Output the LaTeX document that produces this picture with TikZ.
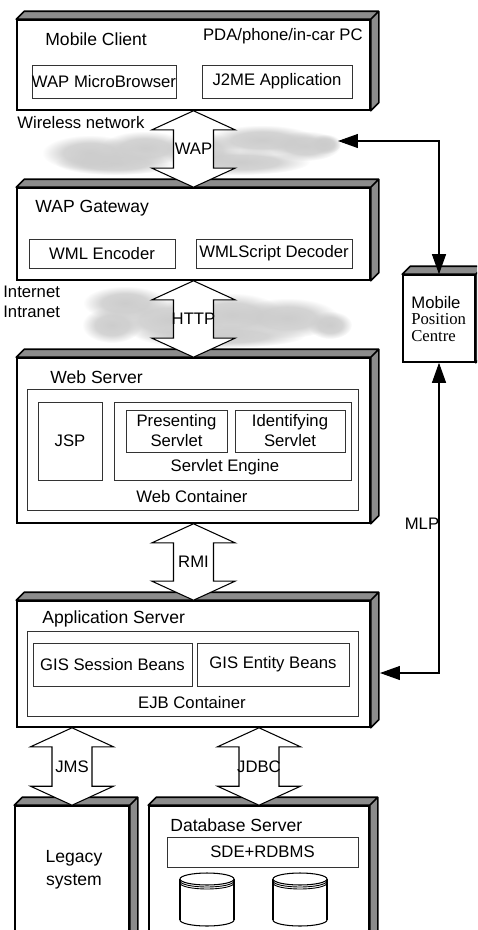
\documentclass[tikz,border=0pt]{standalone}
\usepackage{fontspec}
\setmainfont{Liberation Sans}
\newfontfamily\serifpart{Liberation Serif}
\usetikzlibrary{arrows.meta,calc,fit,fadings}

% soft edge for the cloud puffs
\pgfdeclareradialshading{puffshade}{\pgfpointorigin}{color(0bp)=(white); color(14bp)=(white!85!black);
  color(25bp)=(black); color(50bp)=(black)}
\pgfdeclarefading{puffedge}{\pgfuseshading{puffshade}}

\tikzset{
  slab/.style={draw, line width=0.9pt, fill=white, inner sep=0pt},
  part/.style={draw=black!80, line width=0.5pt, inner sep=0pt},
  depth/.style={draw, line width=0.9pt, fill=black!45, line join=round},
  pipe/.style={draw, line width=0.6pt, fill=white},
  puff/.style={fill=black!20, path fading=puffedge},
  link/.style={line width=0.6pt, {Triangle[length=0.4cm,width=0.28cm]}-{Triangle[length=0.4cm,width=0.28cm]}},
  txt/.style={font=\fontsize{9.5}{11.4}\selectfont, inner sep=0pt},
  head/.style={font=\fontsize{10}{12}\selectfont, inner sep=0pt, anchor=west},
}

% grey top and side of a server slab
\newcommand{\slabdepth}[1]{%
  \draw[depth] (#1.north west) -- ++(8,-8) -- ([shift={(8,-8)}]#1.north east)
    -- ([shift={(8,-8)}]#1.south east) -- (#1.south east) -- (#1.north east) -- cycle
    (#1.north east) -- ++(8,-8);}

% hollow double arrow between two anchors
\newcommand{\fatarrow}[4]{%
  \draw[pipe] let \p1=(#1), \p2=(#2) in
    (\x1,\y1) -- (\x1+0.83cm,\y1-0.38cm) -- (\x1+0.4cm,\y1-0.38cm) -- (\x1+0.4cm,\y2+0.38cm)
    -- (\x1+0.83cm,\y2+0.38cm) -- (\x1,\y2) -- (\x1-0.83cm,\y2+0.38cm) -- (\x1-0.4cm,\y2+0.38cm)
    -- (\x1-0.4cm,\y1-0.38cm) -- (\x1-0.83cm,\y1-0.38cm) -- cycle;
  \node[txt] (#3) at ($(#1)!0.5!(#2)$) {#4};}

% disk drum
\newcommand{\drum}[1]{%
  \draw[pipe] (#1,920) ellipse [x radius=27, y radius=6];
  \fill[white] (#1-27,879) rectangle (#1+27,920);
  \draw[line width=0.6pt] (#1-27,879) -- (#1-27,920) (#1+27,879) -- (#1+27,920);
  \draw[pipe] (#1,879) ellipse [x radius=27, y radius=6];
  \draw[line width=0.5pt] (#1-27,881) arc [start angle=180, end angle=0, x radius=27, y radius=6]
    (#1-27,883) arc [start angle=180, end angle=0, x radius=27, y radius=6];}

\begin{document}
\begin{tikzpicture}[x=0.02cm, y=-0.02cm]
\useasboundingbox (0,0) rectangle (477,930);
\clip (0,0) rectangle (477,930);

% clouds
\foreach \cx/\cy/\rx/\ry in {90/153/48/18, 145/148/45/17, 200/150/40/18, 262/140/55/15,
    305/146/36/15, 240/162/70/13, 115/163/60/12, 325/144/16/10}
  \fill[puff] (\cx,\cy) ellipse [x radius=\rx, y radius=\ry];
\foreach \cx/\cy/\rx/\ry in {125/303/42/17, 112/325/30/18, 170/320/55/22, 232/315/52/22,
    287/318/52/20, 330/325/22/14, 220/336/85/12}
  \fill[puff] (\cx,\cy) ellipse [x radius=\rx, y radius=\ry];

% mobile client
\node[slab, fit={(17,20) (370,110)}] (client) {};
\slabdepth{client}
\node[head] (clienttitle) at (45,39) {Mobile Client};
\node[txt, anchor=east] (devices) at (363,36) {PDA/phone/in-car PC};
\node[part, fit={(32,65) (176,98)}, label={[txt]center:WAP MicroBrowser}] (browser) {};
\node[part, fit={(202,65) (352,98)}, label={[txt]center:J2ME Application}] (j2me) {};
\node[txt, anchor=west] (wireless) at (17,123) {Wireless network};

% wap gateway
\node[slab, fit={(17,188) (370,280)}] (gateway) {};
\slabdepth{gateway}
\node[head] (gatewaytitle) at (35,208) {WAP Gateway};
\node[part, fit={(29,239) (175,268)}, label={[txt]center:WML Encoder}] (encoder) {};
\node[part, fit={(196,239) (352,268)}, label={[txt]center:WMLScript Decoder}] (decoder) {};
\node[txt, anchor=west, align=left] (internet) at (3,302) {Internet\\Intranet};

% web server
\node[slab, fit={(17,358) (370,523)}] (web) {};
\slabdepth{web}
\node[head] (webtitle) at (50,377) {Web Server};
\node[part, fit={(27,389) (358,510)}] (webcont) {};
\node[txt] (webconttext) at (192,497) {Web Container};
\node[part, fit={(38,402) (102,480)}, label={[txt]center:JSP}] (jsp) {};
\node[part, fit={(114,402) (351,480)}] (engine) {};
\node[txt] (enginetext) at (225,467) {Servlet Engine};
\node[part, fit={(126,410) (227,452)}, label={[txt,align=center]center:{Presenting\\Servlet}}] (presenting) {};
\node[part, fit={(235,410) (345,452)}, label={[txt,align=center]center:{Identifying\\Servlet}}] (identifying) {};

% application server
\node[slab, fit={(17,601) (370,727)}] (app) {};
\slabdepth{app}
\node[head] (apptitle) at (42,619) {Application Server};
\node[part, fit={(27,631) (358,716)}] (ejb) {};
\node[txt] (ejbtext) at (192,703) {EJB Container};
\node[part, fit={(33,643) (192,686)}, label={[txt]center:GIS Session Beans}] (session) {};
\node[part, fit={(197,643) (349,686)}, label={[txt]center:GIS Entity Beans}] (entity) {};

% back end
\node[slab, fit={(15,806) (129,945)}] (legacy) {};
\slabdepth{legacy}
\node[txt, align=center, font=\fontsize{10}{13}\selectfont] (legacytext) at (74,870) {Legacy\\system};
\node[slab, fit={(149,806) (369,945)}] (db) {};
\slabdepth{db}
\node[head] (dbtitle) at (170,825) {Database Server};
\node[part, fit={(167,837) (358,867)}, label={[txt]center:SDE+RDBMS}] (sde) {};
\drum{207}
\drum{300}

% mobile position centre
\node[slab, fit={(403,275) (475,362)}] (mpc) {};
\slabdepth{mpc}
\node[txt, anchor=west, align=left, font=\fontsize{9.5}{9.6}\selectfont] (mpctext) at (411,319)
  {Mobile\\{\serifpart Position}\\{\serifpart Centre}};

% protocols
\fatarrow{client.south}{gateway.north}{wap}{WAP}
\fatarrow{gateway.south}{web.north}{http}{HTTP}
\fatarrow{web.south}{app.north}{rmi}{RMI}
\fatarrow{legacy.north |- app.south}{legacy.north}{jms}{JMS}
\fatarrow{db.north |- app.south}{db.north}{jdbc}{JDBC}

\coordinate (wless) at (338,141);
\coordinate (mlpend) at (380,673);
\draw[link] (wless) -| (mpc.north);
\draw[link] (mpc.south) |- (mlpend);
\node[txt] (mlp) at (422,524) {MLP};
\end{tikzpicture}
\end{document}
